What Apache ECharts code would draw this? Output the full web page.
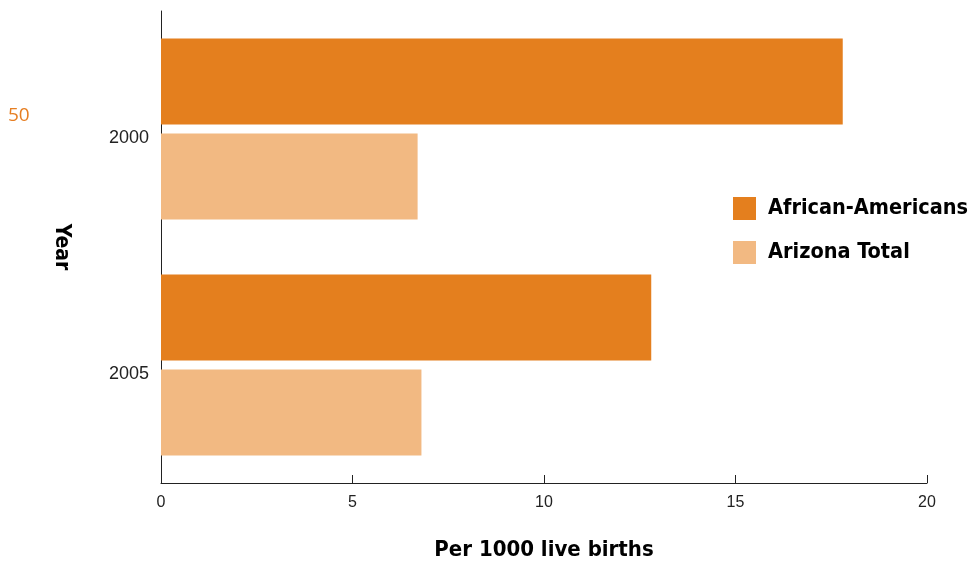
<!DOCTYPE html>
<html>
<head>
<meta charset="utf-8">
<script src="https://cdn.jsdelivr.net/npm/echarts@6/dist/echarts.min.js"></script>
<style>html,body{margin:0;padding:0;background:#fff;}#c{width:972px;height:566px;}</style>
</head>
<body>
<div id="c"></div>
<script>
var years = ['2000', '2005'];
var africanAmericans = [17.8, 12.8];
var arizonaTotal = [6.7, 6.8];
var xTicks = [0, 5, 10, 15, 20];

var chart = echarts.init(document.getElementById('c'), null, {renderer: 'canvas'});
var boldFont = '"Liberation Sans Narrow", "DejaVu Sans Condensed", "Liberation Sans", sans-serif';
chart.setOption({
  animation: false,
  backgroundColor: '#ffffff',
  grid: {left: 161, top: 11, right: 45, bottom: 78, containLabel: false},
  legend: {
    orient: 'vertical',
    left: 733,
    top: 197,
    padding: 0,
    itemWidth: 23,
    itemHeight: 23,
    itemGap: 21,
    icon: 'rect',
    textStyle: {fontFamily: boldFont, fontWeight: 'bold', fontSize: 21.5, color: '#000', padding: [0, 0, 0, 7]},
    data: ['African-Americans', 'Arizona Total']
  },
  xAxis: {
    type: 'value',
    min: xTicks[0],
    max: xTicks[xTicks.length - 1],
    interval: 5,
    name: 'Per 1000 live births',
    nameLocation: 'middle',
    nameGap: 56,
    nameTextStyle: {fontFamily: boldFont, fontWeight: 'bold', fontSize: 22, color: '#000'},
    axisLine: {show: true, lineStyle: {color: '#222', width: 1}},
    axisTick: {show: true, inside: true, length: 8, lineStyle: {color: '#222'}},
    axisLabel: {fontFamily: '"Liberation Sans", sans-serif', fontSize: 16, color: '#222', margin: 12},
    splitLine: {show: false}
  },
  yAxis: {
    type: 'category',
    data: years,
    inverse: true,
    name: 'Year',
    nameLocation: 'middle',
    nameRotate: -90,
    nameGap: 89,
    nameTextStyle: {fontFamily: boldFont, fontWeight: 'bold', fontSize: 21, color: '#000'},
    axisLine: {show: true, lineStyle: {color: '#222', width: 1}},
    axisTick: {show: false},
    axisLabel: {fontFamily: '"Liberation Sans", sans-serif', fontSize: 18, color: '#222', margin: 12, verticalAlign: 'top'}
  },
  series: [
    {name: 'African-Americans', type: 'bar', data: africanAmericans, barWidth: 86, barGap: '10.5%', itemStyle: {color: '#E47F1E'}},
    {name: 'Arizona Total', type: 'bar', data: arizonaTotal, barWidth: 86, barGap: '10.5%', itemStyle: {color: '#F2B982'}}
  ],
  graphic: [
    {type: 'text', left: 8, top: 106, style: {text: '50', fontFamily: '"Open Sans", "Noto Sans", sans-serif', fontSize: 19, fill: '#E67E22'}}
  ]
});
</script>
</body>
</html>
